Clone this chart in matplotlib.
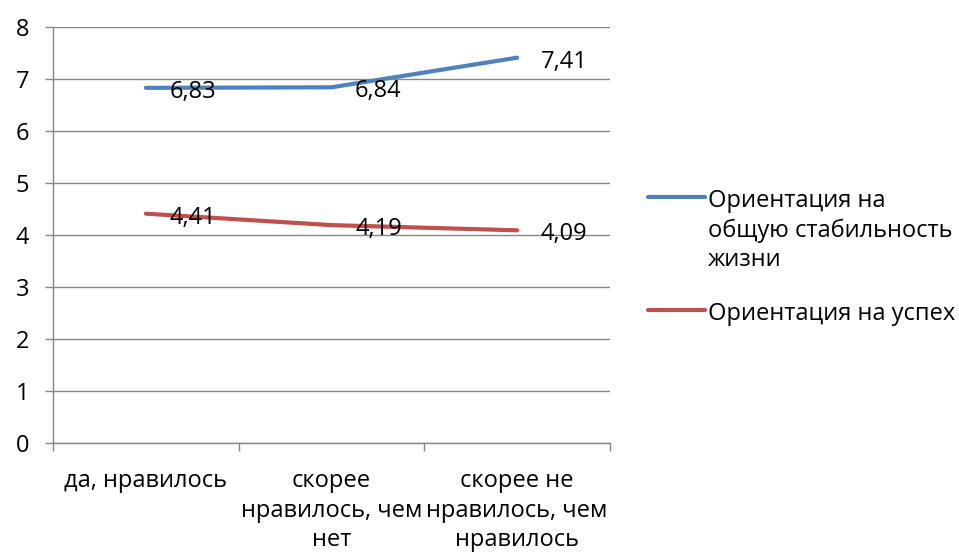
import matplotlib
matplotlib.use("Agg")
import matplotlib.pyplot as plt
from matplotlib.lines import Line2D

categories = ["да, нравилось", "скорее\nнравилось, чем\nнет", "скорее не\nнравилось, чем\nнравилось"]
stability = [6.83, 6.84, 7.41]
success = [4.41, 4.19, 4.09]
series_names = ["Ориентация на\nобщую стабильность\nжизни", "Ориентация на успех"]
series_colors = ["#4F81BD", "#C0504D"]
y_ticks = [0, 1, 2, 3, 4, 5, 6, 7, 8]

W, H = 959, 553
plt.rcParams["font.family"] = ["Open Sans", "DejaVu Sans"]
FS = 17
GRID = "#868686"

fig = plt.figure(figsize=(W / 100, H / 100), dpi=100)
ax = fig.add_axes([53 / W, 1 - 443 / H, (610 - 53) / W, (443 - 27) / H])

x = list(range(len(categories)))
for vals, color in zip([stability, success], series_colors):
    ax.plot(x, vals, color=color, linewidth=3, solid_capstyle="round", zorder=3)
    for xi, v in zip(x, vals):
        ax.annotate(f"{v:.2f}".replace(".", ","), (xi, v), xytext=(17, -3),
                    textcoords="offset points", va="center", ha="left",
                    fontsize=FS, color="black", zorder=4)

ax.set_xlim(-0.5, len(categories) - 0.5)
ax.set_ylim(0, 8)
ax.set_yticks(y_ticks)
ax.set_yticklabels([str(t) for t in y_ticks], fontsize=FS)
ax.set_xticks(x)
ax.set_xticklabels(categories, fontsize=FS, linespacing=1.3)
ax.set_xticks([i - 0.5 for i in range(len(categories) + 1)], minor=True)
ax.tick_params(axis="x", which="major", length=0, pad=19)
ax.tick_params(axis="x", which="minor", length=6, color=GRID, width=1)
ax.tick_params(axis="y", length=6, color=GRID, width=1, pad=11)
ax.grid(axis="y", color=GRID, linewidth=1)
ax.set_axisbelow(True)
for s in ["top", "right"]:
    ax.spines[s].set_visible(False)
for s in ["left", "bottom"]:
    ax.spines[s].set_color(GRID)
    ax.spines[s].set_linewidth(1)

# legend drawn in pixel positions so the handle sits on the first text line
legend_rows = [197, 310]
for name, color, yp in zip(series_names, series_colors, legend_rows):
    yf = 1 - yp / H
    fig.add_artist(Line2D([648 / W, 705 / W], [yf, yf], color=color, linewidth=3,
                          solid_capstyle="round", transform=fig.transFigure))
    fig.text(708 / W, 1 - (yp - 8) / H, name, fontsize=FS, va="top", ha="left",
             linespacing=1.3, transform=fig.transFigure)

fig.savefig("out.png", dpi=100)
